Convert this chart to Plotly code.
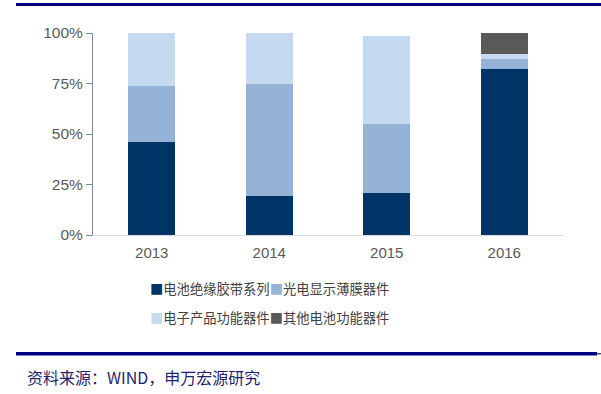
import plotly.graph_objects as go

years = ["2013", "2014", "2015", "2016"]
series_names = ["电池绝缘胶带系列", "光电显示薄膜器件", "电子产品功能器件", "其他电池功能器件"]
battery_tape = [46.2, 19.5, 20.8, 82.0]
optical_film = [27.6, 55.3, 34.2, 5.3]
electronic_parts = [26.2, 25.2, 43.7, 2.3]
other_battery = [0.0, 0.0, 0.0, 10.4]
colors = ["#003366", "#95B3D7", "#C5D9F1", "#595959"]
y_ticks = [0, 25, 50, 75, 100]
y_tick_labels = ["0%", "25%", "50%", "75%", "100%"]
source_text = "资料来源：WIND，申万宏源研究"

W, H = 601, 394
L, R, T, B = 93, 563, 33, 235

def px(x):
    return (x - L) / (R - L)

def py(y):
    return (B - y) / (B - T)

fig = go.Figure()
for name, vals, c in zip(series_names, [battery_tape, optical_film, electronic_parts, other_battery], colors):
    fig.add_trace(go.Bar(x=years, y=vals, name=name, marker=dict(color=c, line=dict(width=0)),
                         showlegend=False))

fig.update_layout(
    barmode="stack",
    bargap=0.6,
    width=W, height=H,
    margin=dict(l=L, r=W - R, t=T, b=H - B, pad=0),
    plot_bgcolor="white", paper_bgcolor="white",
    font=dict(family="Liberation Sans, Arial", size=15, color="#595959"),
    xaxis=dict(showline=True, linecolor="#D9D9D9", linewidth=1, ticks="", showgrid=False,
               ticklabelstandoff=4, tickfont=dict(size=15, color="#595959")),
    yaxis=dict(range=[0, 100], tickvals=y_ticks, ticktext=y_tick_labels, showline=True,
               linecolor="#7F8C9A", linewidth=1, ticks="outside", ticklen=6, tickcolor="#7F8C9A",
               showgrid=False, zeroline=False, tickfont=dict(size=15.5, color="#595959")),
)

def legend_item(i):
    return f'<span style="color:{colors[i]}">■</span>{series_names[i]}'

legend_font = dict(family="Noto Sans CJK SC", size=13.3, color="#404040")
fig.add_annotation(xref="paper", yref="paper", x=px(148), y=py(288), xanchor="left", yanchor="middle",
                   text=legend_item(0) + legend_item(1), showarrow=False, font=legend_font)
fig.add_annotation(xref="paper", yref="paper", x=px(148), y=py(317), xanchor="left", yanchor="middle",
                   text=legend_item(2) + legend_item(3), showarrow=False, font=legend_font)

fig.add_annotation(xref="paper", yref="paper", x=px(25), y=py(377), xanchor="left", yanchor="middle",
                   text=source_text, showarrow=False,
                   font=dict(family="Noto Sans CJK SC", size=16, color="#1F1F6E"))

fig.add_shape(type="line", xref="paper", yref="paper", x0=px(16), x1=px(601), y0=py(4.5), y1=py(4.5),
              line=dict(color="#000080", width=3))
fig.add_shape(type="line", xref="paper", yref="paper", x0=px(16), x1=px(597), y0=py(353.8), y1=py(353.8),
              line=dict(color="#000080", width=3.5))
fig.add_shape(type="line", xref="paper", yref="paper", x0=px(597), x1=px(601), y0=py(353.8), y1=py(353.8),
              line=dict(color="#000000", width=1))

fig.write_html("out.html", config={"displayModeBar": False},
               post_script="document.body.style.margin='0';document.body.style.overflow='hidden';")
